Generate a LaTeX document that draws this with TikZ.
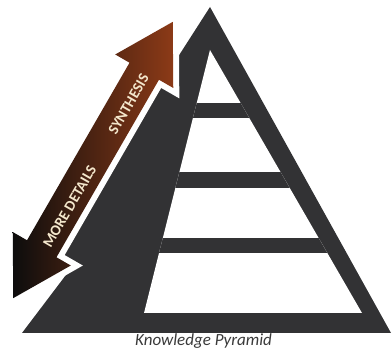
\documentclass[tikz,border=0pt]{standalone}
\usepackage{fontspec}
\setmainfont{Carlito}
\definecolor{pyr}{HTML}{323234}
\definecolor{rust}{HTML}{8C3A17}
\definecolor{umber}{HTML}{4A2110}
\definecolor{cream}{HTML}{F4E7CC}
\definecolor{capt}{HTML}{3A3A3A}
\begin{document}
\begin{tikzpicture}[x=1pt,y=-1pt]
\useasboundingbox (0,0) rectangle (392,355);
\fill[pyr] (210,7)--(176,60)--(122,110)--(41,250)--(72,267)--(22,333)--(391,333)--cycle;
\begin{scope}
\clip (210,50)--(144,313)--(362,313)--cycle;
\fill[white] (140,40) rectangle (370,313);
\foreach \ya/\yb in {103/118,172/188,238/253} \fill[pyr] (140,\ya) rectangle (370,\yb);
\end{scope}
\begin{scope}[shift={(93,160)},rotate=60]
\shade[preaction={draw=white,line width=12,line join=miter},left color=black!95,middle color=umber,right color=rust]
  (159.5,0)--(102.5,33.5)--(102.5,17)--(-102.5,17)--(-102.5,33.5)--(-159.5,0)--(-102.5,-33.5)--(-102.5,-17)--(102.5,-17)--(102.5,-33.5)--cycle;
\node[rotate=60,text=cream,font=\bfseries\fontsize{15}{15}\selectfont] (syn) at (66,3) {SYNTHESIS};
\node[rotate=60,text=cream,font=\bfseries\fontsize{15}{15}\selectfont] (det) at (-52,3) {MORE DETAILS};
\end{scope}
\node[anchor=base,text=capt,font=\itshape\fontsize{17}{17}\selectfont] (title) at (203.5,346) {Knowledge Pyramid};
\end{tikzpicture}
\end{document}
